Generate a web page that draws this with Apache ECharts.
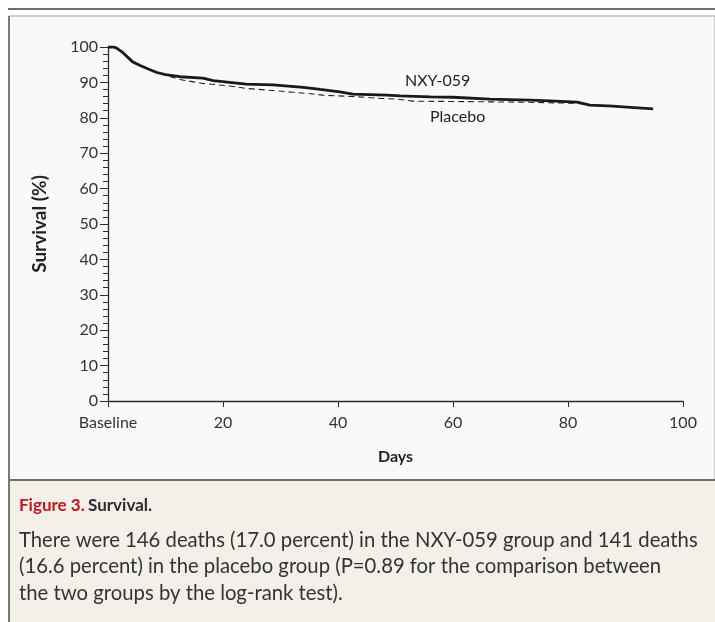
<!DOCTYPE html>
<html>
<head>
<meta charset="utf-8">
<script src="https://cdn.jsdelivr.net/npm/echarts@6/dist/echarts.min.js"></script>
<style>
  html, body { margin: 0; padding: 0; background: #fff; }
  #container { width: 715px; height: 622px; }
</style>
</head>
<body>
<div id="container"></div>
<script>
var dom = document.getElementById("container");
var myChart = echarts.init(dom);

// Kaplan-Meier curves (day, survival %)
var nxyDays   = [0, 1, 1.5, 2.6, 3.5, 4.3, 5.6, 7, 8.5, 10, 12.5, 16.5, 18.3, 24, 28.7, 34, 36.9, 40.3, 42.6, 48.5, 50.8, 56, 60, 66.4, 73.4, 76.9, 81.6, 83.8, 87.8, 89.6, 94.8];
var nxyValues = [100, 100, 99.7, 98.4, 97.0, 95.8, 94.8, 93.8, 92.8, 92.2, 91.6, 91.2, 90.5, 89.5, 89.3, 88.6, 88.0, 87.3, 86.7, 86.4, 86.2, 85.9, 85.8, 85.3, 85.0, 84.8, 84.4, 83.6, 83.3, 83.1, 82.5];

var placeboDays   = [0, 1, 1.5, 2.6, 3.5, 4.3, 5.6, 7, 8.5, 10, 12.5, 16.5, 21.2, 24, 28.7, 32.2, 34.6, 37.4, 42.6, 47.3, 50.2, 53, 60.7, 72.2, 81.6, 83.8, 87.8, 89.6, 94.8];
var placeboValues = [100, 100, 99.7, 98.4, 97.0, 95.8, 94.8, 93.8, 92.8, 92.1, 90.8, 89.7, 89.0, 88.3, 87.7, 87.2, 86.9, 86.4, 86.0, 85.5, 85.3, 84.7, 84.6, 84.4, 84.1, 83.6, 83.3, 83.1, 82.5];

var xTicks = ['Baseline', '20', '40', '60', '80', '100'];
var yTicks = [0, 10, 20, 30, 40, 50, 60, 70, 80, 90, 100];

var captionLines = [
    'There were 146 deaths (17.0 percent) in the NXY-059 group and 141 deaths',
    '(16.6 percent) in the placebo group (P=0.89 for the comparison between',
    'the two groups by the log-rank test).'
];

function pairs(xs, ys) {
    return xs.map(function (x, i) { return [x, ys[i]]; });
}

var font = 'Lato, "Open Sans", sans-serif';
var axisColor = '#2b2b2b';

option = {
    animation: false,
    backgroundColor: '#ffffff',
    textStyle: { fontFamily: font },
    graphic: [
        // top rule
        { type: 'rect', shape: { x: 8, y: 8, width: 707, height: 2 }, style: { fill: '#6f6f6f' }, z: -10 },
        // plot panel
        { type: 'rect', shape: { x: 9, y: 16, width: 706, height: 464 }, style: { fill: '#f9f9f9', stroke: '#a0a0a0', lineWidth: 1 }, z: -10 },
        // caption panel
        { type: 'rect', shape: { x: 9, y: 480, width: 706, height: 142 }, style: { fill: '#f3f0ea' }, z: -10 },
        { type: 'rect', shape: { x: 9, y: 479, width: 706, height: 2 }, style: { fill: '#6f6f6f' }, z: -9 },
        { type: 'rect', shape: { x: 8, y: 16, width: 2, height: 606 }, style: { fill: '#7a7a7a' }, z: -9 },
        // series labels
        { type: 'text', left: 405, top: 73, style: { text: 'NXY-059', font: '16px ' + font, fill: '#222' } },
        { type: 'text', left: 430, top: 109, style: { text: 'Placebo', font: '16px ' + font, fill: '#222' } },
        // caption
        {
            type: 'text', left: 19, top: 497,
            style: {
                text: '{r|Figure 3.} {b|Survival.}',
                rich: {
                    r: { font: 'bold 17px ' + font, fill: '#c4161c' },
                    b: { font: 'bold 17px ' + font, fill: '#2b2b2b' }
                }
            }
        },
        {
            type: 'text', left: 19, top: 527,
            style: { text: captionLines.join('\n'), font: '20.3px ' + font, fill: '#333', lineHeight: 26.5 }
        }
    ],
    grid: {
        left: 108,
        right: 32,
        top: 47,
        bottom: 221
    },
    xAxis: {
        type: 'value',
        min: 0,
        max: 100,
        interval: 20,
        name: 'Days',
        nameLocation: 'middle',
        nameGap: 48,
        nameTextStyle: { fontWeight: 'bold', fontSize: 16, color: '#222' },
        axisLine: { lineStyle: { color: axisColor, width: 1.3 } },
        axisTick: { show: true, length: 6, lineStyle: { color: axisColor } },
        axisLabel: {
            fontSize: 16,
            color: '#333',
            margin: 14,
            formatter: function (v) { return xTicks[v / 20]; }
        },
        splitLine: { show: false }
    },
    yAxis: {
        type: 'value',
        min: 0,
        max: 100,
        interval: 10,
        name: 'Survival (%)',
        nameLocation: 'middle',
        nameGap: 59,
        nameTextStyle: { fontWeight: 'bold', fontSize: 19, color: '#222' },
        axisLine: { show: true, lineStyle: { color: axisColor, width: 1.3 } },
        axisTick: { show: true, length: 8, lineStyle: { color: axisColor } },
        minorTick: { show: true, splitNumber: 5, length: 5, lineStyle: { color: axisColor } },
        axisLabel: {
            fontSize: 16,
            color: '#333',
            margin: 10,
            formatter: function (v) { return yTicks.indexOf(v) >= 0 ? String(v) : ''; }
        },
        splitLine: { show: false }
    },
    series: [
        {
            name: 'Placebo',
            type: 'line',
            data: pairs(placeboDays, placeboValues),
            showSymbol: false,
            lineStyle: { color: '#222', width: 1.1, type: [6, 4] },
            z: 2
        },
        {
            name: 'NXY-059',
            type: 'line',
            data: pairs(nxyDays, nxyValues),
            showSymbol: false,
            lineStyle: { color: '#1a1a1a', width: 2.8 },
            z: 3
        }
    ]
};

myChart.setOption(option);
</script>
</body>
</html>
